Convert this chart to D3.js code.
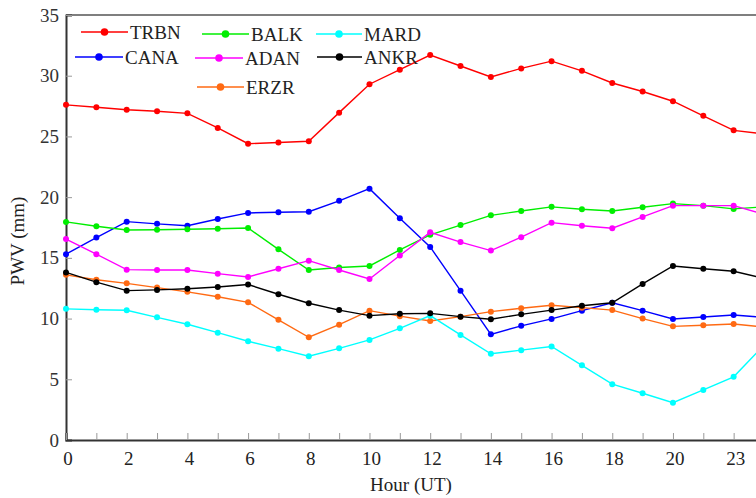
<!DOCTYPE html>
<html>
<head>
<meta charset="utf-8">
<script src="https://cdn.jsdelivr.net/npm/d3@7"></script>
<style>
  html, body { margin: 0; padding: 0; background: #fff; }
  svg { display: block; }
</style>
</head>
<body>
<div id="chart"></div>
<script>
// Hourly PWV (mm), 24 hours (index 0..23)
const hours = d3.range(24);
const xTickValues = [0, 2, 4, 6, 8, 10, 12, 14, 16, 18, 20, 22];
const xTickLabels = ['0', '2', '4', '6', '8', '10', '12', '14', '16', '18', '20', '23'];
const yTicks = [0, 5, 10, 15, 20, 25, 30, 35];

const stations = ['TRBN', 'CANA', 'BALK', 'ADAN', 'ERZR', 'MARD', 'ANKR'];
const colors = ['#ff0000', '#0000ff', '#00ee00', '#ff00ff', '#ff6a13', '#00ffff', '#000000'];

const trbn = [27.6, 27.4, 27.2, 27.07, 26.9, 25.7, 24.4, 24.5, 24.6, 26.96, 29.3, 30.5, 31.7, 30.8, 29.9, 30.6, 31.2, 30.4, 29.4, 28.7, 27.9, 26.7, 25.5, 25.2];
const cana = [15.3, 16.67, 17.98, 17.8, 17.65, 18.2, 18.7, 18.75, 18.8, 19.7, 20.7, 18.26, 15.9, 12.3, 8.7, 9.4, 9.97, 10.65, 11.3, 10.65, 9.97, 10.13, 10.3, 10.1];
const balk = [17.96, 17.6, 17.3, 17.32, 17.35, 17.4, 17.46, 15.7, 14.0, 14.2, 14.33, 15.65, 16.9, 17.7, 18.5, 18.86, 19.2, 19.0, 18.86, 19.17, 19.47, 19.3, 19.03, 19.2];
const adan = [16.55, 15.3, 14.03, 14.0, 14.0, 13.7, 13.43, 14.1, 14.77, 14.0, 13.26, 15.2, 17.1, 16.3, 15.6, 16.7, 17.9, 17.65, 17.44, 18.37, 19.3, 19.3, 19.3, 18.6];
const erzr = [13.6, 13.2, 12.9, 12.55, 12.2, 11.8, 11.34, 9.9, 8.46, 9.5, 10.65, 10.2, 9.8, 10.16, 10.57, 10.85, 11.1, 10.9, 10.7, 10.0, 9.36, 9.45, 9.55, 9.3];
const mard = [10.8, 10.73, 10.68, 10.1, 9.53, 8.84, 8.13, 7.52, 6.9, 7.55, 8.24, 9.2, 10.24, 8.65, 7.1, 7.4, 7.7, 6.15, 4.6, 3.85, 3.07, 4.12, 5.2, 7.8];
const ankr = [13.8, 13.0, 12.3, 12.36, 12.46, 12.6, 12.8, 12.0, 11.26, 10.7, 10.24, 10.4, 10.43, 10.16, 9.94, 10.35, 10.7, 11.06, 11.3, 12.85, 14.33, 14.1, 13.9, 13.3];

const seriesValues = [trbn, cana, balk, adan, erzr, mard, ankr];

// legend layout: [lineStartX, lineEndX, y] per station (irregular grid as in the source)
const legendLayout = [
  [81, 128, 32],
  [75, 123, 57],
  [202, 249, 34],
  [195, 243, 58],
  [197, 244, 87],
  [316, 362, 34],
  [317, 362, 57]
];

const W = 756, H = 498;
const svg = d3.select('#chart').append('svg')
  .attr('width', W).attr('height', H)
  .style('font-family', '"Liberation Serif", "Times New Roman", serif');

const x = d3.scaleLinear().domain([0, 23]).range([66, 764]);
const y = d3.scaleLinear().domain([0, 35]).range([440, 15]);

// Top border
svg.append('line')
  .attr('x1', 66).attr('x2', W).attr('y1', y(35)).attr('y2', y(35))
  .attr('stroke', '#555').attr('stroke-width', 1.5);

// Y axis
const yAxis = svg.append('g').attr('transform', `translate(${x(0)},0)`)
  .call(d3.axisRight(y).tickValues(yTicks).tickSize(6).tickFormat(''));
yAxis.select('.domain').attr('stroke', '#333').attr('stroke-width', 2);
yAxis.selectAll('.tick line').attr('stroke', '#999');
svg.append('g').selectAll('text').data(yTicks).join('text')
  .attr('x', 59).attr('y', d => y(d))
  .attr('text-anchor', 'end').attr('dominant-baseline', 'central')
  .attr('font-size', 19).attr('fill', '#333')
  .text(d => d);

// X axis (minor ticks each hour, pointing inward)
const xAxis = svg.append('g').attr('transform', `translate(0,${y(0)})`)
  .call(d3.axisTop(x).tickValues(hours).tickSize(7).tickFormat(''));
xAxis.select('.domain').attr('stroke', '#333').attr('stroke-width', 2);
xAxis.selectAll('.tick line').attr('stroke', '#999');
svg.append('g').selectAll('text').data(xTickValues).join('text')
  .attr('x', d => x(d) + 2).attr('y', 458)
  .attr('text-anchor', 'middle').attr('dominant-baseline', 'central')
  .attr('font-size', 19).attr('fill', '#222')
  .text((d, i) => xTickLabels[i]);

// Axis titles
svg.append('text')
  .attr('x', 411).attr('y', 491)
  .attr('text-anchor', 'middle')
  .attr('font-size', 19).attr('fill', '#222')
  .text('Hour (UT)');
svg.append('text')
  .attr('transform', 'translate(24,241) rotate(-90)')
  .attr('text-anchor', 'middle')
  .attr('font-size', 19).attr('fill', '#222')
  .text('PWV (mm)');

// Series
const line = d3.line().x((d, i) => x(hours[i])).y(d => y(d));
stations.forEach((s, k) => {
  const g = svg.append('g');
  g.append('path')
    .attr('d', line(seriesValues[k]))
    .attr('fill', 'none').attr('stroke', colors[k]).attr('stroke-width', 1.4);
  g.selectAll('circle').data(seriesValues[k]).join('circle')
    .attr('cx', (d, i) => x(hours[i])).attr('cy', d => y(d))
    .attr('r', 3).attr('fill', colors[k]);
});

// Legend
stations.forEach((s, k) => {
  const [x1, x2, ly] = legendLayout[k];
  svg.append('line')
    .attr('x1', x1).attr('x2', x2).attr('y1', ly).attr('y2', ly)
    .attr('stroke', colors[k]).attr('stroke-width', 1.4);
  svg.append('circle')
    .attr('cx', (x1 + x2) / 2).attr('cy', ly).attr('r', 3.8)
    .attr('fill', colors[k]);
  svg.append('text')
    .attr('x', x2 + 2).attr('y', ly)
    .attr('dominant-baseline', 'central')
    .attr('font-size', 19).attr('fill', '#222')
    .text(s);
});
</script>
</body>
</html>
